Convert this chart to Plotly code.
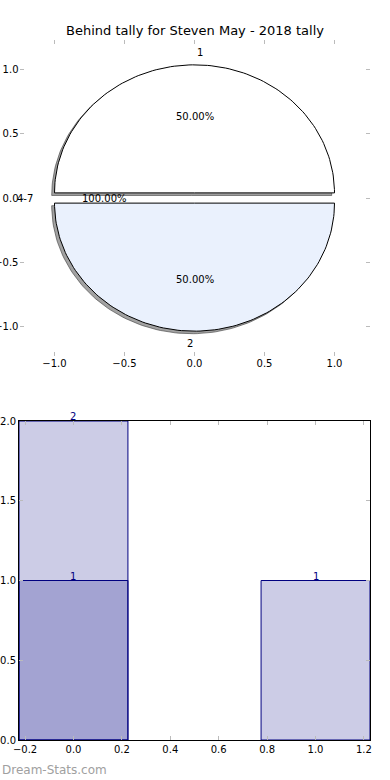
import numpy as np
import plotly.graph_objects as go

# ---- data ----
pie_labels = ["1", "4-7", "2"]
pie_values = [1, 0, 1]
pie_pct_text = ["50.00%", "100.00%", "50.00%"]
pie_colors = ["#ffffff", "#ffffff", "#eaf1fd"]

bar_x = [0, 1]
bar_total = [2, 1]
bar_second = [1, None]

title = "Behind tally for Steven May - 2018 tally"
font = "DejaVu Sans"

W, H = 390, 780
explode = 0.04
fig = go.Figure()

# ---- pie built from values ----
total = float(sum(pie_values))
theta = 0.0
annotations = []
wedges = []
for lab, val, pct, col in zip(pie_labels, pie_values, pie_pct_text, pie_colors):
    frac = val / total
    t1, t2 = theta, theta + 360.0 * frac
    mid = np.deg2rad((t1 + t2) / 2.0)
    cx, cy = explode * np.cos(mid), explode * np.sin(mid)
    wedges.append((t1, t2, cx, cy, col, val))
    xt = cx + 1.1 * np.cos(mid)
    yt = cy + 1.1 * np.sin(mid)
    annotations.append(dict(x=xt, y=yt, xref="x", yref="y", text=lab, showarrow=False,
                            xanchor="left" if xt > 0 else "right", yanchor="middle",
                            font=dict(family=font, size=10, color="black")))
    annotations.append(dict(x=cx + 0.6 * np.cos(mid), y=cy + 0.6 * np.sin(mid), xref="x", yref="y",
                            text=pct, showarrow=False, xanchor="center", yanchor="middle",
                            font=dict(family=font, size=10, color="black")))
    theta = t2

def wedge_path(t1, t2, cx, cy):
    ang = np.deg2rad(np.linspace(t1, t2, 120))
    xs = np.concatenate([[cx], cx + np.cos(ang), [cx]])
    ys = np.concatenate([[cy], cy + np.sin(ang), [cy]])
    return xs, ys

# shadows
for t1, t2, cx, cy, col, val in wedges:
    if val <= 0:
        continue
    xs, ys = wedge_path(t1, t2, cx - 0.02, cy - 0.02)
    fig.add_trace(go.Scatter(x=xs, y=ys, fill="toself", fillcolor="rgba(70,70,70,0.5)",
                             line=dict(color="rgba(60,60,60,0.6)", width=1), mode="lines",
                             hoverinfo="skip", showlegend=False, xaxis="x", yaxis="y"))
for t1, t2, cx, cy, col, val in wedges:
    if val <= 0:
        continue
    xs, ys = wedge_path(t1, t2, cx, cy)
    fig.add_trace(go.Scatter(x=xs, y=ys, fill="toself", fillcolor=col,
                             line=dict(color="black", width=1), mode="lines",
                             hoverinfo="skip", showlegend=False, xaxis="x", yaxis="y"))

# ---- bars ----
bar_fill = "rgba(0,0,128,0.2)"
fig.add_trace(go.Bar(x=bar_x, y=bar_total, width=0.45, marker=dict(color=bar_fill, line=dict(color="#000080", width=1)),
                     showlegend=False, xaxis="x2", yaxis="y2"))
fig.add_trace(go.Bar(x=bar_x, y=bar_second, width=0.45, marker=dict(color=bar_fill, line=dict(color="#000080", width=1)),
                     showlegend=False, xaxis="x2", yaxis="y2"))
for series in (bar_total, bar_second):
    for xv, yv in zip(bar_x, series):
        if yv is None:
            continue
        annotations.append(dict(x=xv, y=yv, xref="x2", yref="y2", text=str(yv), showarrow=False,
                                xanchor="center", yanchor="bottom", yshift=-3,
                                font=dict(family=font, size=10, color="#000080")))

annotations.append(dict(x=0, y=1 - 770 / H, xref="paper", yref="paper", text="Dream-Stats.com",
                        showarrow=False, xanchor="left", yanchor="middle",
                        font=dict(family=font, size=12, color="#a0a0a0")))

tick_common = dict(ticks="inside", ticklen=4, tickcolor="#bbbbbb", tickwidth=1,
                   tickfont=dict(family=font, size=10, color="black"),
                   showgrid=False, zeroline=False, automargin=False)

fig.update_layout(
    width=W, height=H, margin=dict(l=0, r=0, t=0, b=0, autoexpand=False),
    paper_bgcolor="white", plot_bgcolor="white",
    title=dict(text=title, x=195 / W, xanchor="center", y=1 - 30 / H, yanchor="middle",
               font=dict(family=font, size=13, color="black"), automargin=False),
    xaxis=dict(domain=[19.5 / W, 369.5 / W], range=[-1.25, 1.25], tickvals=[-1, -0.5, 0, 0.5, 1],
               tickformat=".1f", showline=False, mirror="ticks", anchor="y", **tick_common),
    yaxis=dict(domain=[1 - 356 / H, 1 - 40 / H], range=[-1.234, 1.234], tickvals=[-1, -0.5, 0, 0.5, 1],
               tickformat=".1f", showline=False, mirror="ticks", anchor="x", **tick_common),
    xaxis2=dict(domain=[19 / W, 370 / W], range=[-0.225, 1.225], tickvals=[-0.2, 0, 0.2, 0.4, 0.6, 0.8, 1.0, 1.2],
                tickformat=".1f", showline=True, linecolor="black", linewidth=1, mirror="ticks", anchor="y2", **tick_common),
    yaxis2=dict(domain=[1 - 740 / H, 1 - 421 / H], range=[0, 2], tickvals=[0, 0.5, 1, 1.5, 2],
                tickformat=".1f", showline=True, linecolor="black", linewidth=1, mirror="ticks", anchor="x2", **tick_common),
    barmode="overlay",
    annotations=annotations,
)

fig.write_html("out.html", config={"displayModeBar": False},
               post_script="document.body.style.margin='0';document.body.style.overflow='hidden';")
